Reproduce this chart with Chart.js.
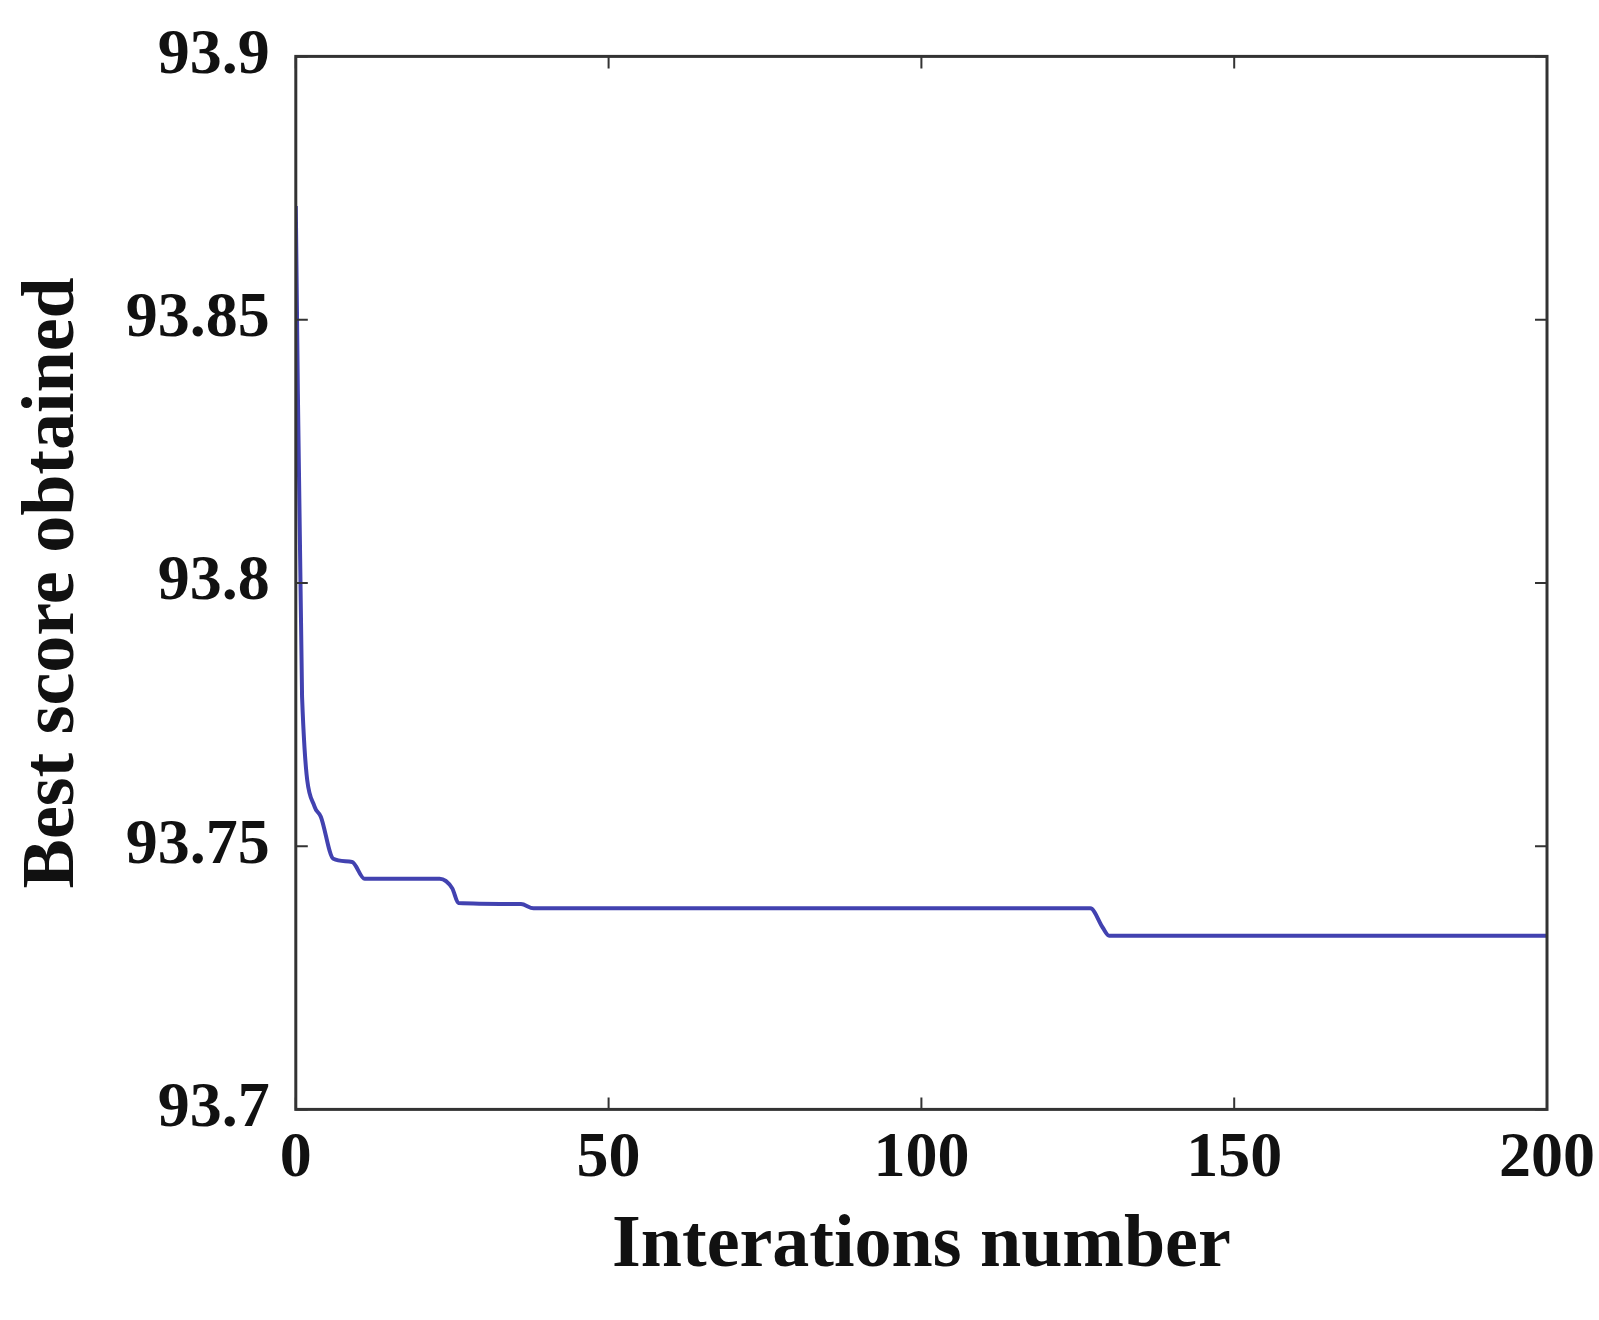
<!DOCTYPE html>
<html><head><script src="https://cdn.jsdelivr.net/npm/chart.js@4/dist/chart.umd.min.js"></script>
<style>html,body{margin:0;background:#fff}#w{width:1599px;height:1320px}</style></head>
<body><div id="w"><canvas id="c"></canvas></div>
<script>
const iterations = [0, 1, 3, 4, 6, 9, 11, 23, 25, 26, 36, 38, 127, 129, 130, 200];
const bestScore = [93.8716, 93.7784, 93.7575, 93.7556, 93.7476, 93.7470, 93.7438, 93.7438, 93.7420, 93.7392, 93.7390, 93.7382, 93.7382, 93.7345, 93.7330, 93.7330];
const xTicks = [0, 50, 100, 150, 200];
const yTicks = [93.7, 93.75, 93.8, 93.85, 93.9];
const font = {family:'"Liberation Serif", "Times New Roman", serif', weight:'bold'};
const innerTicks = {id:'innerTicks', afterDraw(ch){
  const c=ch.ctx, a=ch.chartArea, x=ch.scales.x, y=ch.scales.y;
  c.save(); c.strokeStyle='#333'; c.lineWidth=2; c.beginPath();
  xTicks.forEach(v=>{const p=x.getPixelForValue(v); c.moveTo(p,a.bottom);c.lineTo(p,a.bottom-12);c.moveTo(p,a.top);c.lineTo(p,a.top+12);});
  yTicks.forEach(v=>{const p=y.getPixelForValue(v); c.moveTo(a.left,p);c.lineTo(a.left+12,p);c.moveTo(a.right,p);c.lineTo(a.right-12,p);});
  c.stroke(); c.lineWidth=3; c.strokeRect(a.left,a.top,a.right-a.left,a.bottom-a.top); c.restore();
}};
new Chart(document.getElementById('c'),{type:'line',
 data:{datasets:[{data:iterations.map((v,i)=>({x:v,y:bestScore[i]})),borderColor:'#4242b0',borderWidth:4,pointRadius:0,tension:0.2,cubicInterpolationMode:'monotone'}]},
 options:{responsive:true,maintainAspectRatio:false,animation:false,
  layout:{padding:{top:40,right:20,left:5,bottom:25}},
  plugins:{legend:{display:false},tooltip:{enabled:false}},
  scales:{
   x:{type:'linear',min:0,max:200,afterBuildTicks(s){s.ticks=xTicks.map(v=>({value:v}));},
      grid:{display:false},border:{display:false},
      ticks:{color:'#111',font:{...font,size:64},padding:4},
      title:{display:true,text:'Interations number',color:'#111',font:{...font,size:74},padding:{top:0}}},
   y:{min:93.7,max:93.9,afterBuildTicks(s){s.ticks=yTicks.map(v=>({value:v}));},
      grid:{display:false},border:{display:false},
      ticks:{color:'#111',font:{...font,size:64},padding:18,callback:v=>String(+v.toFixed(2))},
      title:{display:true,text:'Best score obtained',color:'#111',font:{...font,size:74},padding:{bottom:10}}}
  }},plugins:[innerTicks]});
</script></body></html>
